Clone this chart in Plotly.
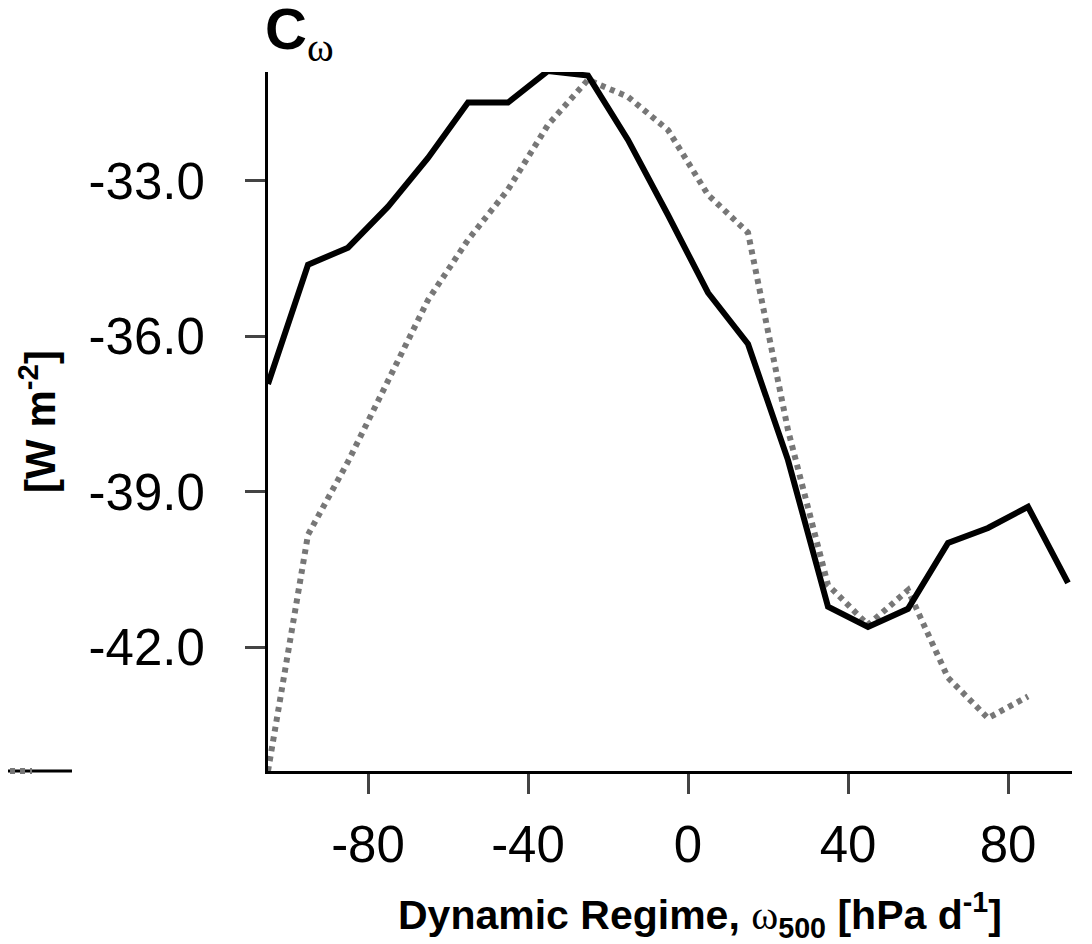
import plotly.graph_objects as go

# dynamic regime bins (hPa/day)
omega = [-105, -95, -85, -75, -65, -55, -45, -35, -25, -15, -5, 5, 15, 25, 35, 45, 55, 65, 75, 85, 95]

# black solid series
c_solid = [-36.92, -34.62, -34.29, -33.50, -32.56, -31.49, -31.49, -30.88, -30.97, -32.21,
           -33.66, -35.16, -36.15, -38.39, -41.22, -41.61, -41.26, -39.99, -39.70, -39.29, -40.76]

# grey dotted series (stops at 85)
omega_dot = omega[:-1]
c_dot = [-44.39, -39.83, -38.42, -36.84, -35.30, -34.14, -33.17, -31.92, -31.05, -31.38,
         -32.02, -33.27, -34.00, -37.81, -40.80, -41.57, -40.90, -42.59, -43.37, -42.95]

x_ticks = [-80, -40, 0, 40, 80]
x_labels = ['-80', '-40', '0', '40', '80']
y_ticks = [-42.0, -39.0, -36.0, -33.0]
y_labels = ['-42.0', '-39.0', '-36.0', '-33.0']

fig = go.Figure()
fig.add_trace(go.Scatter(x=omega_dot, y=c_dot, mode='lines',
                         line=dict(color='#777777', width=6, dash='5px,5px'), showlegend=False))
fig.add_trace(go.Scatter(x=omega, y=c_solid, mode='lines',
                         line=dict(color='black', width=6), showlegend=False))

# bits of the neighbouring panel's axis at the left edge
fig.add_shape(type='line', xref='paper', yref='paper', x0=-0.3333, x1=-0.2438, y0=0, y1=0,
              line=dict(color='black', width=3))
fig.add_shape(type='line', xref='paper', yref='paper', x0=-0.3333, x1=-0.2935, y0=0, y1=0,
              line=dict(color='#777777', width=6, dash='5px,5px'))

# page body adds ~8px offset, margins compensate
fig.update_layout(
    width=1092, height=944,
    margin=dict(l=260, r=28, t=64, b=181, autoexpand=False),
    plot_bgcolor='white', paper_bgcolor='white',
    font=dict(family='Liberation Sans, Arial', color='black'),
    annotations=[
        dict(text="<b>C</b><span style='font-family:Liberation Serif'><sub>ω</sub></span>",
             xref='paper', yref='paper', x=-0.006, y=1.0, xanchor='left', yanchor='bottom',
             yshift=0, showarrow=False, font=dict(size=58)),
        dict(text="<b>Dynamic Regime, </b><span style='font-family:Liberation Serif'>ω</span><b><sub>500</sub> [hPa d<sup>-1</sup>]</b>",
             xref='paper', yref='paper', x=0.537, y=0, xanchor='center', yanchor='middle',
             yshift=-144, showarrow=False, font=dict(size=41)),
    ],
)
fig.update_xaxes(range=[-105, 96], tickvals=x_ticks, ticktext=x_labels, ticks='outside',
                 ticklen=20, tickwidth=3, automargin=False,
                 showline=True, linewidth=3, linecolor='black', showgrid=False, zeroline=False,
                 tickfont=dict(size=51), ticklabelstandoff=7)
fig.update_yaxes(range=[-44.39, -30.90], tickvals=y_ticks, ticktext=y_labels, ticks='outside',
                 ticklen=20, tickwidth=3, automargin=False, showline=True, linewidth=3,
                 linecolor='black', showgrid=False, zeroline=False, tickfont=dict(size=51),
                 ticklabelstandoff=30,
                 title=dict(text="<b>[W m<sup>-2</sup>]</b>", font=dict(size=42), standoff=20))

fig.write_html("out.html")
